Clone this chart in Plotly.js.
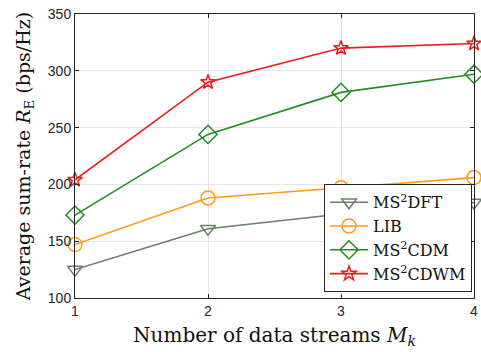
<!DOCTYPE html>
<html><head><meta charset="utf-8">
<script src="https://cdn.plot.ly/plotly-3.0.1.min.js"></script>
<style>html,body{margin:0;padding:0;background:#fff;}#chart{width:481px;height:352px;}</style>
</head><body><div id="chart"></div>
<script>
const streams = [1, 2, 3, 4];
const dft  = [125, 161, 174, 184];
const lib  = [147, 188, 197, 206];
const cdm  = [173, 244, 281, 297];
const cdwm = [204, 290, 320, 324];
const tickVals = [100, 150, 200, 250, 300, 350];

const serif = 'DejaVu Serif, Liberation Serif, serif';
function tr(y, name, color, symbol, size) {
  return {x: streams, y: y, name: name, type: 'scatter', mode: 'lines+markers',
    cliponaxis: false,
    line: {color: color, width: 1.6},
    marker: {symbol: symbol, size: size, color: color, line: {color: color, width: 1.5}}};
}
const data = [
  tr(dft, 'MS<sup>2</sup>DFT', '#6b8068', 'triangle-down-open', 13),
  tr(lib, 'LIB', '#ff9b19', 'circle-open', 14),
  tr(cdm, 'MS<sup>2</sup>CDM', '#238b23', 'diamond-open', 14),
  tr(cdwm, 'MS<sup>2</sup>CDWM', '#ea1c1c', 'star-open', 11)
];
const axisCommon = {showline: true, mirror: 'ticks', linecolor: '#262626', linewidth: 1,
  ticks: 'inside', ticklen: 4, tickcolor: '#262626', showgrid: true, gridcolor: '#e6e6e6',
  zeroline: false, tickfont: {family: 'Liberation Sans, Arial, sans-serif', size: 14, color: '#262626'}};
const layout = {
  width: 481, height: 352,
  margin: {l: 75, r: 7, t: 14, b: 54},
  paper_bgcolor: '#fff', plot_bgcolor: '#fff',
  showlegend: true,
  legend: {x: 0.995, xanchor: 'right', y: 0.02, yanchor: 'bottom',
    bgcolor: '#fff', bordercolor: '#262626', borderwidth: 1, itemwidth: 38,
    font: {family: serif, size: 16, color: '#111'}, tracegroupgap: 0},
  xaxis: Object.assign({}, axisCommon, {range: [1, 4], tickvals: streams, ticktext: streams.map(String),
    title: {text: 'Number of data streams <i>M</i><sub><i>k</i></sub>', font: {family: serif, size: 20, color: '#111'}, standoff: 10}}),
  yaxis: Object.assign({}, axisCommon, {range: [100, 350], tickvals: tickVals,
    title: {text: 'Average sum-rate <i>R</i><sub>E</sub> (bps/Hz)', font: {family: serif, size: 19, color: '#111'}, standoff: 12}})
};
Plotly.newPlot('chart', data, layout, {displayModeBar: false, staticPlot: true});
</script></body></html>
